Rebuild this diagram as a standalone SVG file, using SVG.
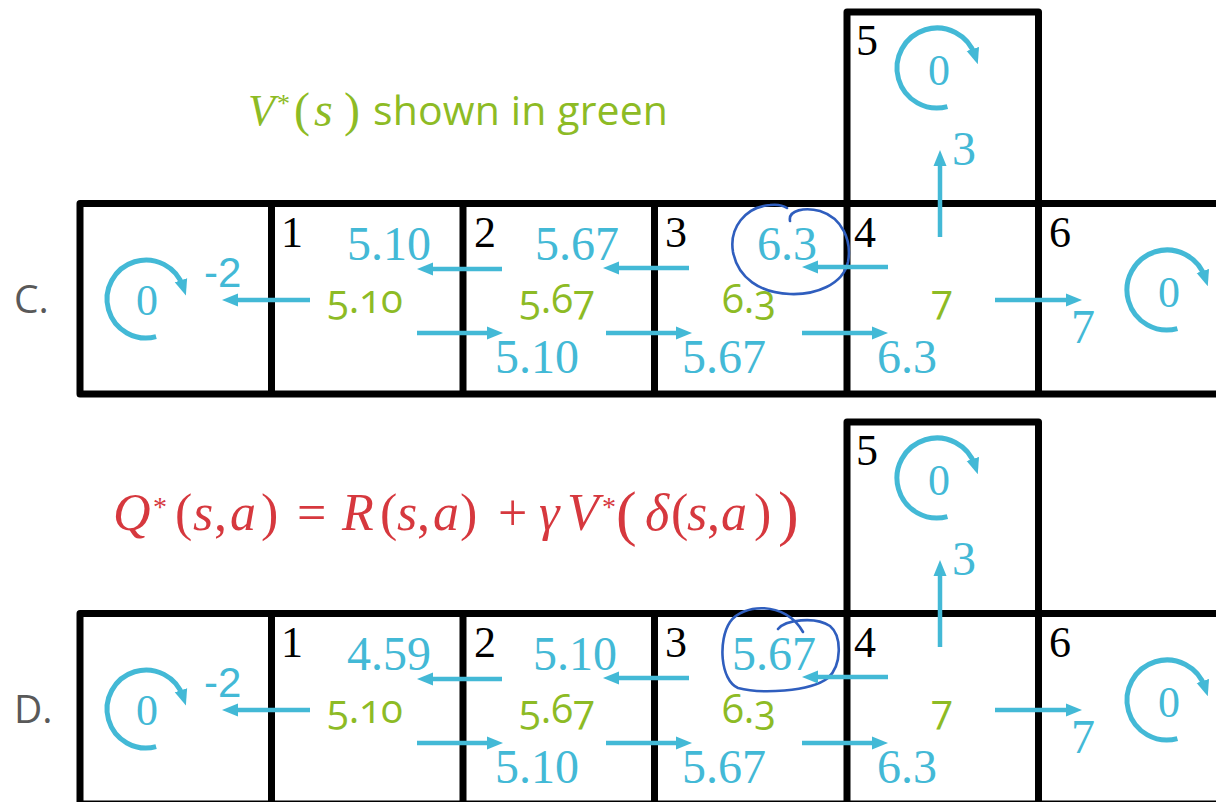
<svg xmlns="http://www.w3.org/2000/svg" width="1216" height="802" viewBox="0 0 1216 802">
<style>
.grid{fill:none;stroke:#000;stroke-width:7;stroke-linejoin:round}
.lbl{font-family:"Liberation Serif",serif;font-size:44px;fill:#000}
.bv{font-family:"Liberation Serif",serif;font-size:48px;fill:#43B9D6}
.bz{font-family:"Liberation Serif",serif;font-size:44px;fill:#43B9D6;text-anchor:middle}
.neg{font-family:"Liberation Sans",sans-serif;font-size:42px;fill:#43B9D6}
.gv{font-family:"Open Sans","Liberation Sans",sans-serif;font-size:40px;fill:#8DBB25;font-variant-numeric:oldstyle-nums;font-feature-settings:"onum"}
.row{font-family:"Open Sans","Liberation Sans",sans-serif;font-size:39px;fill:#595959}
.arr{fill:none;stroke:#43B9D6;stroke-width:4.5;marker-end:url(#ah)}
.loop{fill:none;stroke:#43B9D6;stroke-width:5;marker-end:url(#ah)}
.ink{fill:none;stroke:#2F5EBE;stroke-width:2.6;stroke-linecap:round;stroke-linejoin:round}
.red{font-family:"Liberation Serif",serif;font-size:52px;fill:#D6383E}
.it{font-style:italic}
</style>
<defs>
<marker id="ah" markerUnits="userSpaceOnUse" markerWidth="16" markerHeight="16" viewBox="0 0 16 16" refX="7" refY="8" orient="auto">
<path d="M0 1.5 L16 8 L0 14.5 z" fill="#43B9D6"/>
</marker>
</defs>

<!-- Captions -->
<g id="caption-v">
<text x="248" y="125" font-family="Liberation Serif,serif" font-size="44" fill="#8DBB25"><tspan font-style="italic">V</tspan><tspan x="277" y="112" font-size="26">*</tspan><tspan x="294" y="126" font-size="48">(</tspan><tspan x="314" font-style="italic" font-size="48">s</tspan><tspan x="344" font-size="48">)</tspan></text>
<text x="373" y="125" font-family="Open Sans,Liberation Sans,sans-serif" font-size="41" fill="#8DBB25" textLength="295">shown in green</text>
</g>
<g id="caption-q">
<text class="red" y="530"><tspan class="it" x="113">Q</tspan><tspan x="153" y="516" font-size="28">*</tspan><tspan x="175" y="530">(</tspan><tspan class="it" x="193">s</tspan><tspan x="214">,</tspan><tspan class="it" x="230">a</tspan><tspan x="261">)</tspan><tspan x="297">=</tspan><tspan class="it" x="342">R</tspan><tspan x="380">(</tspan><tspan class="it" x="397">s</tspan><tspan x="417">,</tspan><tspan class="it" x="433">a</tspan><tspan x="460">)</tspan><tspan x="498">+</tspan><tspan class="it" x="539">γ</tspan><tspan class="it" x="567">V</tspan><tspan x="602" y="516" font-size="28">*</tspan><tspan x="616" y="534" font-size="62">(</tspan><tspan class="it" x="645" y="530">δ</tspan><tspan x="671">(</tspan><tspan class="it" x="687">s</tspan><tspan x="707">,</tspan><tspan class="it" x="721">a</tspan><tspan x="754">)</tspan><tspan x="778" y="534" font-size="62">)</tspan></text>
</g>

<g id="label-C"><text class="row" x="14" y="313">C.</text></g>
<g id="label-D"><text class="row" x="14" y="723">D.</text></g>

<!-- ================= Grid C ================= -->
<g id="gridC">
<path class="grid" d="M1220 203.5 H80 V394 H1220"/>
<path class="grid" d="M847 203.5 V12 H1038.5 V203.5"/>
<path class="grid" d="M271.5 203.5 V394 M463 203.5 V394 M654.5 203.5 V394 M847 203.5 V394 M1038.5 203.5 V394"/>
</g>
<g id="C-cell0">
<text class="bz" x="147" y="315">0</text>
<text class="neg" x="204" y="287">-2</text>
</g>
<g id="C-cell1">
<text class="lbl" x="281" y="247">1</text>
<text class="bv" x="347" y="260">5.10</text>
<text class="gv" x="327" y="313">5.10</text>
</g>
<g id="C-cell2">
<text class="lbl" x="474" y="247">2</text>
<text class="bv" x="535" y="260">5.67</text>
<text class="gv" x="519" y="313">5.67</text>
<text class="bv" x="495" y="373">5.10</text>
</g>
<g id="C-cell3">
<text class="lbl" x="665" y="247">3</text>
<text class="bv" x="757" y="260">6.3</text>
<text class="gv" x="722" y="313">6.3</text>
<text class="bv" x="682" y="373">5.67</text>
<path class="ink" d="M790 221 C 788 210, 805 207, 820 211 C 842 218, 852 240, 848 262 C 843 285, 815 295, 790 294 C 760 293, 738 278, 733 252 C 729 228, 745 207, 770 205 C 778 204, 784 206, 787 208"/>
</g>
<g id="C-cell4">
<text class="lbl" x="854" y="247">4</text>
<text class="gv" x="931" y="313">7</text>
<text class="bv" x="877" y="373">6.3</text>
</g>
<g id="C-cell5">
<text class="lbl" x="856" y="55">5</text>
<text class="bz" x="939" y="85">0</text>
<text class="bv" x="952" y="165">3</text>
</g>
<g id="C-cell6">
<text class="lbl" x="1049" y="247">6</text>
<text class="bz" x="1169" y="307">0</text>
<text class="bv" x="1071" y="343">7</text>
</g>
<g id="C-connectors">
<path class="loop" d="M156.1 336.7 A39 39 0 1 1 183.1 286.9"/>
<path class="loop" d="M947.4 106.6 A40 40 0 1 1 975 55.6"/>
<path class="loop" d="M1177.4 328.6 A40 40 0 1 1 1205 277.6"/>
<path class="arr" d="M310 300 H231"/>
<path class="arr" d="M502 269 H426"/>
<path class="arr" d="M417 333 H494"/>
<path class="arr" d="M689 268 H612"/>
<path class="arr" d="M606 333 H683"/>
<path class="arr" d="M888 267 H811"/>
<path class="arr" d="M802 333 H879"/>
<path class="arr" d="M940 237 V159"/>
<path class="arr" d="M995 300 H1073"/>
</g>

<!-- ================= Grid D ================= -->
<g id="gridD">
<path class="grid" d="M1220 613.5 H80 V804 H1220"/>
<path class="grid" d="M847 613.5 V422 H1038.5 V613.5"/>
<path class="grid" d="M271.5 613.5 V804 M463 613.5 V804 M654.5 613.5 V804 M847 613.5 V804 M1038.5 613.5 V804"/>
</g>
<g id="D-cell0">
<text class="bz" x="147" y="725">0</text>
<text class="neg" x="204" y="697">-2</text>
</g>
<g id="D-cell1">
<text class="lbl" x="281" y="657">1</text>
<text class="bv" x="347" y="670">4.59</text>
<text class="gv" x="327" y="723">5.10</text>
</g>
<g id="D-cell2">
<text class="lbl" x="474" y="657">2</text>
<text class="bv" x="533" y="670">5.10</text>
<text class="gv" x="519" y="723">5.67</text>
<text class="bv" x="495" y="783">5.10</text>
</g>
<g id="D-cell3">
<text class="lbl" x="665" y="657">3</text>
<text class="bv" x="732" y="670">5.67</text>
<text class="gv" x="722" y="723">6.3</text>
<text class="bv" x="682" y="783">5.67</text>
<path class="ink" d="M778 629 C 785 620, 815 616, 830 626 C 842 636, 842 665, 828 678 C 810 692, 760 694, 738 688 C 720 680, 718 640, 730 622 C 742 604, 785 600, 803 632"/>
</g>
<g id="D-cell4">
<text class="lbl" x="854" y="657">4</text>
<text class="gv" x="931" y="723">7</text>
<text class="bv" x="877" y="783">6.3</text>
</g>
<g id="D-cell5">
<text class="lbl" x="856" y="465">5</text>
<text class="bz" x="939" y="495">0</text>
<text class="bv" x="952" y="575">3</text>
</g>
<g id="D-cell6">
<text class="lbl" x="1049" y="657">6</text>
<text class="bz" x="1169" y="717">0</text>
<text class="bv" x="1071" y="753">7</text>
</g>
<g id="D-connectors">
<path class="loop" d="M156.1 746.7 A39 39 0 1 1 183.1 696.9"/>
<path class="loop" d="M947.4 516.6 A40 40 0 1 1 975 465.6"/>
<path class="loop" d="M1177.4 738.6 A40 40 0 1 1 1205 687.6"/>
<path class="arr" d="M310 710 H231"/>
<path class="arr" d="M502 679 H426"/>
<path class="arr" d="M417 743 H494"/>
<path class="arr" d="M689 678 H612"/>
<path class="arr" d="M606 743 H683"/>
<path class="arr" d="M888 677 H811"/>
<path class="arr" d="M802 743 H879"/>
<path class="arr" d="M940 647 V569"/>
<path class="arr" d="M995 710 H1073"/>
</g>
</svg>
